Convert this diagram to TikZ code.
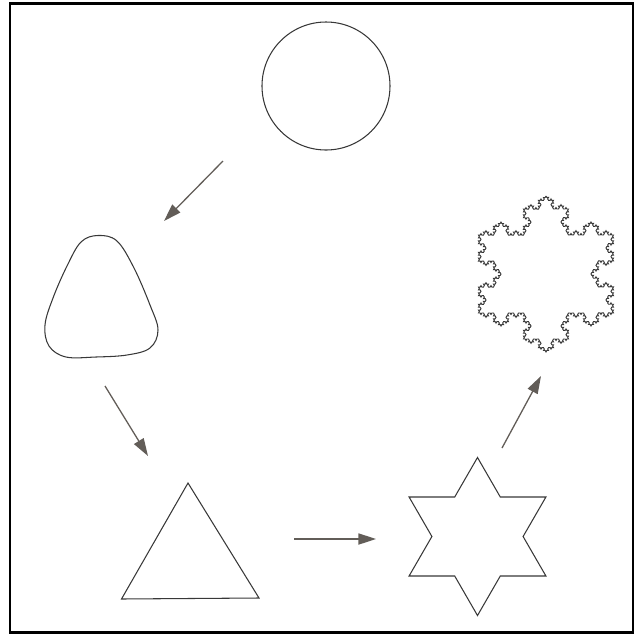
\documentclass[tikz,border=0pt]{standalone}
\usetikzlibrary{arrows.meta,decorations.fractals}
\definecolor{Pencil}{HTML}{383838}
\definecolor{Graphite}{HTML}{625D58}
\tikzset{
 outline/.style={draw=Pencil,line width=0.9pt,line join=miter},
 flake/.style={outline,line width=0.8pt,decoration=Koch snowflake},
 flow/.style={-{Triangle[length=15pt,width=9.5pt]},line width=1.1pt,draw=Graphite},
 frame/.style={draw=black,line width=2pt}
}
\begin{document}
\begin{tikzpicture}[x=0.03cm,y=-0.03cm]
\useasboundingbox (0,0) rectangle (635,634);
\draw[frame] (10,3.5) rectangle (633,632.5);
% stages of the construction
\coordinate (disc) at (326,86);
\coordinate (star) at (477.5,536.5);
\draw[outline] (disc) circle (64);
\draw[outline] plot[smooth cycle,tension=0.6] coordinates {(98,235.5) (117,241) (134,268) (150,305) (158,330) (150,348) (127,355) (96,357) (66,357) (49,346) (45,325) (53,298) (67,266) (81,242)};
\draw[outline] (188,483) -- (259,598) -- (121.5,599) -- cycle;
\draw[outline,shift={(star)}] plot[samples at={0,...,11},variable=\k] ({90+30*\k}:{62.3+16.7*cos(180*\k)}) -- cycle;
\draw[flake] decorate{decorate{decorate{decorate{(546,196) -- (613.5,313) -- (478.5,313) -- cycle}}}};
% arrows between the stages
\coordinate (a1) at (223,161); \coordinate (b1) at (164,221);
\coordinate (a2) at (105,386); \coordinate (b2) at (148,456);
\coordinate (a3) at (294,539); \coordinate (b3) at (376,539);
\coordinate (a4) at (502,448); \coordinate (b4) at (541,376);
\foreach \s/\t in {a1/b1,a2/b2,a3/b3,a4/b4} \draw[flow] (\s) -- (\t);
\end{tikzpicture}
\end{document}
